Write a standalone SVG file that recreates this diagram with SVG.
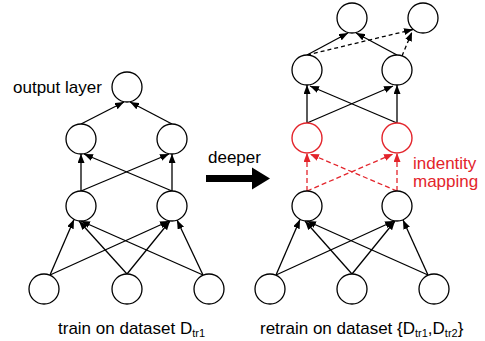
<svg xmlns="http://www.w3.org/2000/svg" width="485" height="341" viewBox="0 0 485 341">
<style>
.n{fill:#fff;stroke:#000;stroke-width:1.3}
.r{fill:#fff;stroke:#e3242b;stroke-width:1.4}
.e{stroke:#000;stroke-width:1.3;fill:none;marker-end:url(#ah)}
.d{stroke:#000;stroke-width:1.3;fill:none;stroke-dasharray:4 3;marker-end:url(#ah)}
.rd{stroke:#e3242b;stroke-width:1.3;fill:none;stroke-dasharray:5 3;marker-end:url(#ahr)}
text{font-family:"Liberation Sans",Arial,sans-serif;font-size:17px;fill:#000}
.rt{fill:#e3242b}
.sub{font-size:11px}
</style>
<defs>
<marker id="ah" markerUnits="userSpaceOnUse" markerWidth="9" markerHeight="7" refX="9" refY="3.5" orient="auto"><path d="M0,0 L9,3.5 L0,7 z" fill="#000"/></marker>
<marker id="ahr" markerUnits="userSpaceOnUse" markerWidth="9" markerHeight="7" refX="9" refY="3.5" orient="auto"><path d="M0,0 L9,3.5 L0,7 z" fill="#e3242b"/></marker>
</defs>
<rect width="485" height="341" fill="#fff"/>
<g id="connectors">
<!-- left network -->
<line class="e" x1="50" y1="275" x2="74" y2="219.5"/>
<line class="e" x1="127" y1="274" x2="79" y2="221"/>
<line class="e" x1="203" y1="275" x2="81" y2="221"/>
<line class="e" x1="50" y1="275" x2="169" y2="221"/>
<line class="e" x1="127" y1="274" x2="170" y2="221"/>
<line class="e" x1="203" y1="275" x2="177" y2="220"/>
<line class="e" x1="81" y1="191" x2="81" y2="154"/>
<line class="e" x1="81" y1="191" x2="169" y2="154"/>
<line class="e" x1="172" y1="191" x2="84" y2="154"/>
<line class="e" x1="172" y1="191" x2="172" y2="154"/>
<line class="e" x1="81" y1="124" x2="124" y2="102"/>
<line class="e" x1="172" y1="124" x2="130" y2="102"/>
<!-- right network -->
<line class="e" x1="276" y1="275" x2="300" y2="219.5"/>
<line class="e" x1="352" y1="274" x2="305" y2="221"/>
<line class="e" x1="428" y1="275" x2="307" y2="221"/>
<line class="e" x1="276" y1="275" x2="394" y2="221"/>
<line class="e" x1="352" y1="274" x2="395" y2="221"/>
<line class="e" x1="428" y1="275" x2="403" y2="220"/>
<line class="rd" x1="307" y1="191" x2="307" y2="153"/>
<line class="rd" x1="307" y1="191" x2="393" y2="154"/>
<line class="rd" x1="397" y1="191" x2="310" y2="154"/>
<line class="rd" x1="397" y1="191" x2="397" y2="153"/>
<line class="e" x1="307" y1="123" x2="307" y2="85"/>
<line class="e" x1="307" y1="123" x2="393" y2="86"/>
<line class="e" x1="397" y1="123" x2="310" y2="86"/>
<line class="e" x1="397" y1="123" x2="397" y2="85"/>
<line class="e" x1="307" y1="55" x2="348" y2="33"/>
<line class="e" x1="397" y1="55" x2="356" y2="33"/>
<line class="d" x1="307" y1="55" x2="413" y2="29.5"/>
<line class="d" x1="402" y1="56" x2="412" y2="32"/>
</g>
<g id="left-output"><circle class="n" cx="127" cy="87" r="15"/></g>
<g id="left-h2-a"><circle class="n" cx="81" cy="139" r="15"/></g>
<g id="left-h2-b"><circle class="n" cx="172" cy="139" r="15"/></g>
<g id="left-h1-a"><circle class="n" cx="81" cy="206" r="15"/></g>
<g id="left-h1-b"><circle class="n" cx="172" cy="206" r="15"/></g>
<g id="left-in-a"><circle class="n" cx="44" cy="289" r="15"/></g>
<g id="left-in-b"><circle class="n" cx="127" cy="289" r="15"/></g>
<g id="left-in-c"><circle class="n" cx="209" cy="289" r="15"/></g>
<g id="right-top-a"><circle class="n" cx="352" cy="18" r="15"/></g>
<g id="right-top-b"><circle class="n" cx="423" cy="18" r="15"/></g>
<g id="right-h3-a"><circle class="n" cx="307" cy="70" r="15"/></g>
<g id="right-h3-b"><circle class="n" cx="397" cy="70" r="15"/></g>
<g id="right-red-a"><circle class="r" cx="307" cy="138" r="15"/></g>
<g id="right-red-b"><circle class="r" cx="397" cy="138" r="15"/></g>
<g id="right-h1-a"><circle class="n" cx="307" cy="206" r="15"/></g>
<g id="right-h1-b"><circle class="n" cx="397" cy="206" r="15"/></g>
<g id="right-in-a"><circle class="n" cx="270" cy="289" r="15"/></g>
<g id="right-in-b"><circle class="n" cx="352" cy="289" r="15"/></g>
<g id="right-in-c"><circle class="n" cx="434" cy="289" r="15"/></g>
<g id="deeper-arrow">
<polygon points="206,175 252,175 252,167.5 270,178.5 252,189.5 252,182 206,182" fill="#000"/>
<text x="208" y="163">deeper</text>
</g>
<g id="labels">
<text x="13" y="93">output layer</text>
<text class="rt" x="413" y="169">indentity</text>
<text class="rt" x="413" y="187">mapping</text>
<text x="58" y="334">train on dataset D<tspan class="sub" dy="3">tr1</tspan></text>
<text x="260" y="334">retrain on dataset {D<tspan class="sub" dy="3">tr1</tspan><tspan dy="-3">,D</tspan><tspan class="sub" dy="3">tr2</tspan><tspan dy="-3">}</tspan></text>
</g>
</svg>
